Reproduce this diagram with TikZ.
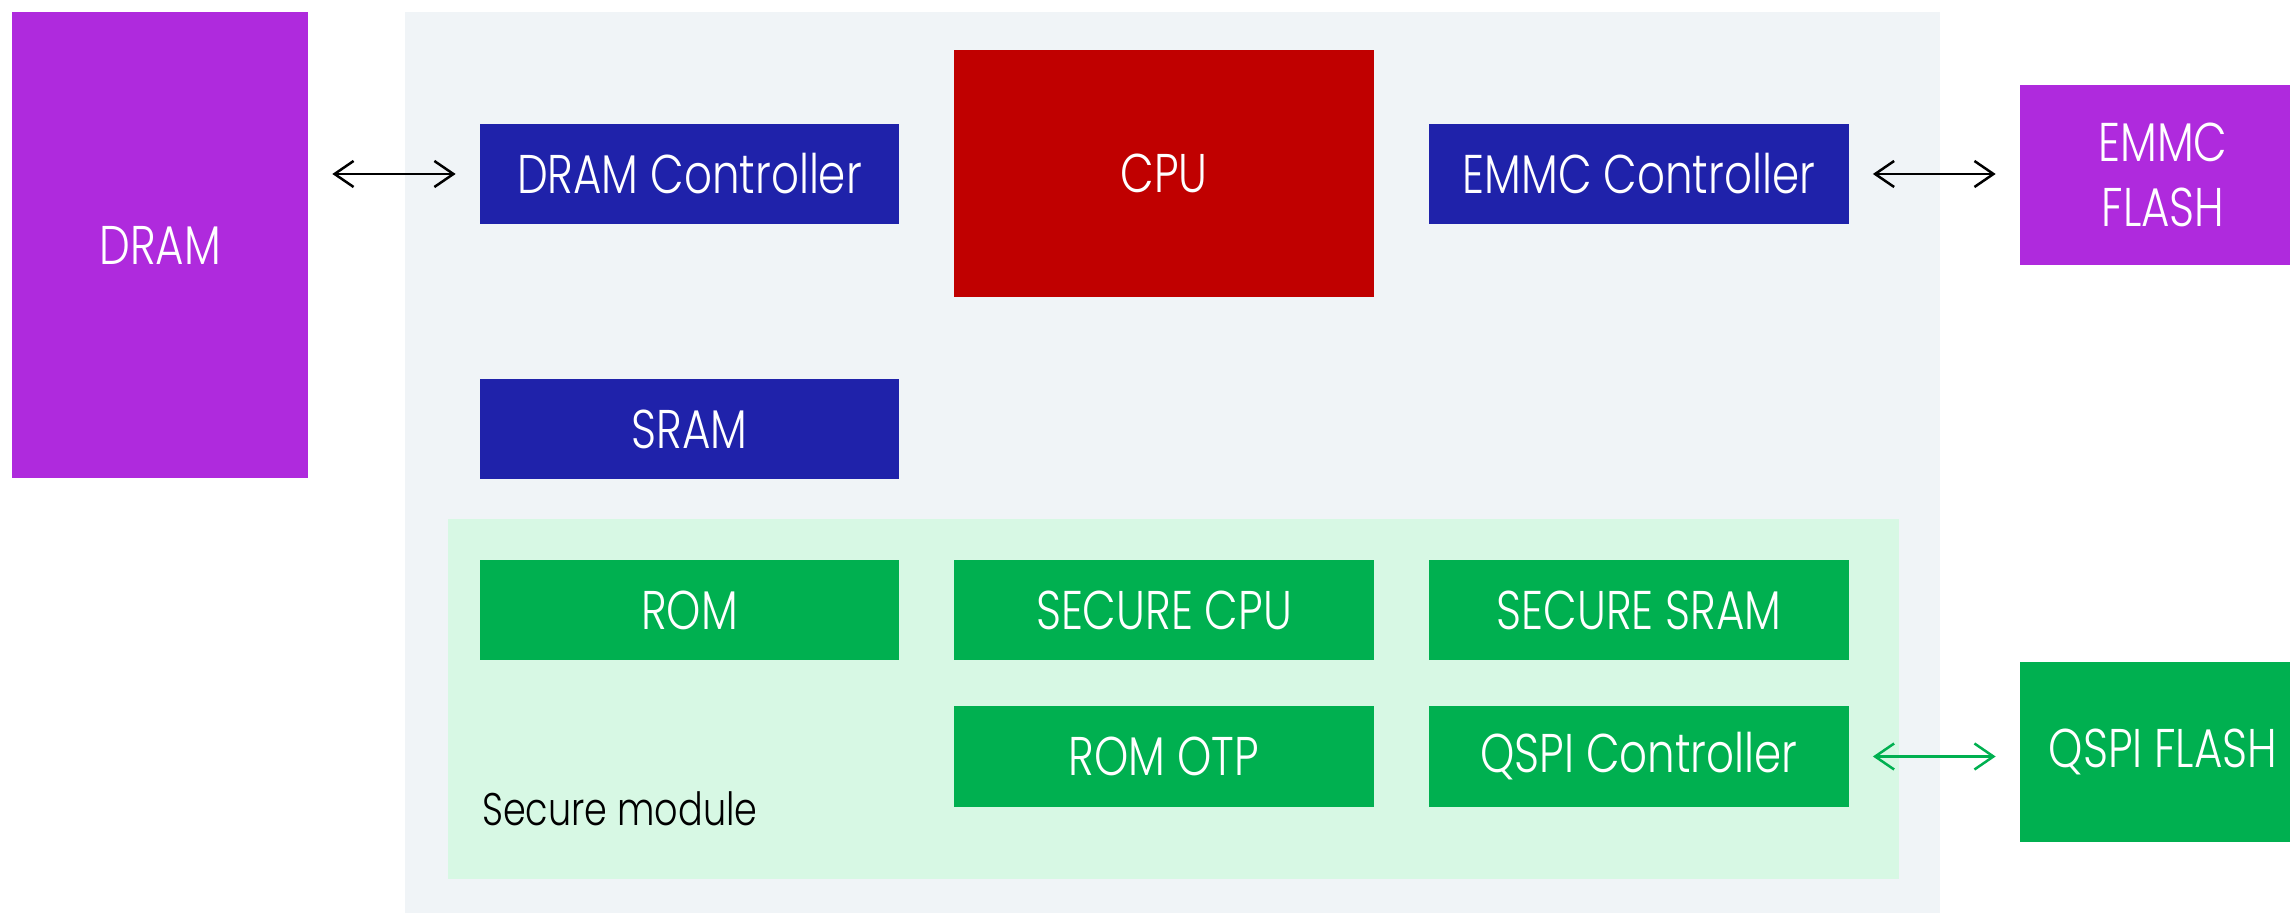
\documentclass[tikz,border=0pt]{standalone}
\usepackage{fontspec}
\setmainfont{Poppins Light}[FakeStretch=0.8]
\usetikzlibrary{arrows.meta}

\definecolor{dramviolet}{RGB}{175,42,221}
\definecolor{ctrlblue}{RGB}{31,34,170}
\definecolor{cpured}{RGB}{192,0,0}
\definecolor{secgreen}{RGB}{0,176,80}
\definecolor{socgrey}{RGB}{240,244,247}
\definecolor{secmint}{RGB}{215,248,228}

\begin{document}
\begin{tikzpicture}[x=0.01cm,y=-0.01cm,line width=.25mm,>={Straight Barb[length=1.9mm,width=2.6mm]},
    block/.style={fill=#1,text=white,inner sep=0pt,font=\fontsize{15.5}{18.4}\selectfont,align=center},
    link/.style={<->,shorten >=.23cm,shorten <=.23cm}]
        \pgfmathsetmacro{\w}{4.19}
        \pgfmathsetmacro{\h}{1.00}

        \useasboundingbox (0,0) rectangle (2290,913);

        % chip and secure area
        \node[fill=socgrey,minimum width=15.35cm,minimum height=9.2cm,inner sep=0pt] (SOC) at (1172.5,472) {};
        \node[fill=secmint,minimum width=14.51cm,minimum height=3.6cm,inner sep=0pt] (SEC) at (1173.5,699) {};
        \node[anchor=base west,inner sep=0pt,font=\fontsize{13}{16}\selectfont] (SEC_label) at (481,826) {Secure module};

        \node[block=dramviolet,minimum width=2.96cm,minimum height=4.66cm] (DRAM) at (160,245) {DRAM};

        \node[block=ctrlblue,minimum width=\w cm,minimum height=\h cm] (DRAM_C) at (689.5,174) {DRAM Controller};
        \node[block=cpured,minimum width=\w cm,minimum height=2.47cm] (CPU) at (1164,173.5) {CPU};
        \node[block=ctrlblue,minimum width=\w cm,minimum height=\h cm] (EMMC_C) at (1639,174) {EMMC Controller};
        \node[block=ctrlblue,minimum width=\w cm,minimum height=\h cm] (SRAM) at (689.5,429) {SRAM};

        \node[block=secgreen,minimum width=\w cm,minimum height=\h cm] (ROM) at (689.5,610) {ROM};
        \node[block=secgreen,minimum width=\w cm,minimum height=\h cm] (S_CPU) at (1164,610) {SECURE CPU};
        \node[block=secgreen,minimum width=\w cm,minimum height=\h cm] (S_SRAM) at (1639,610) {SECURE SRAM};
        \node[block=secgreen,minimum width=\w cm,minimum height=\h cm] (ROM_OTP) at (1164,756.5) {ROM OTP};
        \node[block=secgreen,minimum width=\w cm,minimum height=\h cm] (QSPI_C) at (1639,756.5) {QSPI Controller};

        \node[block=dramviolet,minimum width=2.86cm,minimum height=1.8cm] (EMMC) at (2163,175) {EMMC\\FLASH};
        \node[block=secgreen,minimum width=2.86cm,minimum height=1.8cm] (QSPI) at (2163,752) {QSPI FLASH};

        \draw[link] (DRAM.east |- DRAM_C) -- (DRAM_C);
        \draw[link] (EMMC_C) -- (EMMC.west |- EMMC_C);
        \draw[link,secgreen] (QSPI_C) -- (QSPI.west |- QSPI_C);

    \end{tikzpicture}
\end{document}
